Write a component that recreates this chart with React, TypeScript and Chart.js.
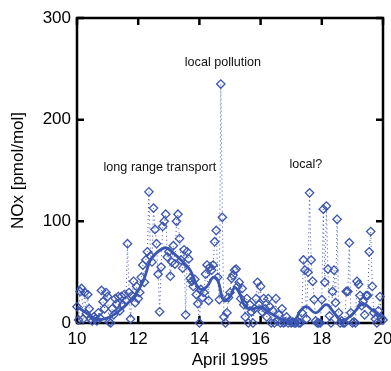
import { useEffect, useRef } from "react";
import { Chart, registerables } from "chart.js";

Chart.register(...registerables);

// Measurement times (day of April 1995) and NOx mixing ratios [pmol/mol]
const times = [
  10.0, 10.05, 10.1, 10.15, 10.2, 10.25, 10.3, 10.35, 10.4, 10.45, 10.5, 10.55, 10.6, 10.65, 10.7, 10.75, 10.8, 10.85, 10.9, 10.95,
  11.0, 11.05, 11.1, 11.15, 11.2, 11.25, 11.3, 11.35, 11.4, 11.45, 11.5, 11.55, 11.6, 11.65, 11.7, 11.75, 11.8, 11.85, 11.9, 11.95,
  12.0, 12.05, 12.1, 12.15, 12.2, 12.25, 12.3, 12.35, 12.4, 12.45, 12.5, 12.55, 12.6, 12.65, 12.7, 12.75, 12.8, 12.85, 12.9, 12.95,
  13.0, 13.05, 13.1, 13.15, 13.2, 13.25, 13.3, 13.35, 13.4, 13.45, 13.5, 13.55, 13.6, 13.65, 13.7, 13.75, 13.8, 13.85, 13.9, 13.95,
  14.0, 14.05, 14.1, 14.15, 14.2, 14.25, 14.3, 14.35, 14.4, 14.45, 14.5, 14.55, 14.6, 14.65, 14.7, 14.75, 14.8, 14.85, 14.9, 14.95,
  15.0, 15.05, 15.1, 15.15, 15.2, 15.25, 15.3, 15.35, 15.4, 15.45, 15.5, 15.55, 15.6, 15.65, 15.7, 15.75, 15.8, 15.85, 15.9, 15.95,
  16.0, 16.05, 16.1, 16.15, 16.2, 16.25, 16.3, 16.35, 16.4, 16.45, 16.5, 16.55, 16.6, 16.65, 16.7, 16.75, 16.8, 16.85, 16.9, 16.95,
  17.0, 17.05, 17.1, 17.15, 17.2, 17.25, 17.3, 17.35, 17.4, 17.45, 17.5, 17.55, 17.6, 17.65, 17.7, 17.75, 17.8, 17.85, 17.9, 17.95,
  18.0, 18.05, 18.1, 18.15, 18.2, 18.25, 18.3, 18.35, 18.4, 18.45, 18.5, 18.55, 18.6, 18.65, 18.7, 18.75, 18.8, 18.85, 18.9, 18.95,
  19.0, 19.05, 19.1, 19.15, 19.2, 19.25, 19.3, 19.35, 19.4, 19.45, 19.5, 19.55, 19.6, 19.65, 19.7, 19.75, 19.8, 19.85, 19.9, 19.95,
  20.0,
];

const nox = [
  16, 3, 31, 34, 4, 30, 9, 28, 14, 4, 2, 6, 4, 2, 10, 5, 32, 21, 14, 30,
  26, 1, 0, 14, 8, 24, 19, 26, 12, 26, 18, 28, 22, 78, 30, 4, 27, 41, 20, 36,
  24, 30, 45, 57, 40, 62, 70, 129, 66, 60, 113, 92, 78, 48, 11, 55, 95, 100, 107, 65,
  70, 46, 60, 76, 58, 100, 107, 83, 62, 54, 72, 8, 70, 63, 44, 41, 36, 43, 28, 19,
  0, 33, 25, 30, 48, 57, 22, 55, 52, 57, 80, 91, 45, 23, 235, 104, 6, 0, 10, 25,
  30, 44, 47, 52, 53, 36, 40, 24, 34, 18, 6, 24, 0, 18, 11, 0, 14, 24, 40, 18,
  36, 11, 24, 14, 6, 24, 16, 0, 12, 0, 24, 2, 8, 0, 14, 0, 1, 6, 0, 2,
  0, 1, 0, 0, 2, 0, 0, 10, 62, 52, 4, 50, 128, 62, 41, 23, 2, 0, 0, 0,
  23, 112, 40, 115, 53, 7, 0, 31, 52, 20, 102, 10, 0, 2, 0, 0, 31, 31, 79, 10,
  0, 1, 0, 41, 38, 27, 17, 21, 8, 27, 27, 70, 90, 36, 10, 4, 0, 12, 26, 5,
  3,
];

// Smoothed curve
const smoothTimes = [
  10.0, 10.3, 10.6, 10.9, 11.2, 11.5, 11.8, 12.0, 12.2, 12.4, 12.6, 12.9, 13.1, 13.4, 13.7, 13.9,
  14.05, 14.25, 14.45, 14.6, 14.8, 15.0, 15.15, 15.3, 15.5, 15.75, 16.0, 16.3, 16.6, 16.85, 17.1,
  17.3, 17.5, 17.8, 18.15, 18.4, 18.65, 18.9, 19.1, 19.35, 19.6, 19.85, 20.0,
];
const smoothNox = [
  16, 10, 4, 4, 8, 15, 24, 32, 44, 62, 69, 74, 70, 62, 52, 38,
  33, 36, 45, 42, 22, 26, 35, 30, 16, 14, 16, 10, 5, 2, 2,
  12, 16, 10, 18, 10, 2, 6, 12, 19, 14, 8, 5,
];

const xTicks = [10, 12, 14, 16, 18, 20];
const yTicks = [0, 100, 200, 300];

const notes = [
  { text: "local pollution", x: 14.77, y: 256 },
  { text: "long range transport", x: 12.71, y: 153 },
  { text: "local?", x: 17.48, y: 156 },
];

const FONT = "'Liberation Sans', Arial, Helvetica, sans-serif";
const BLUE = "#3a55b2";

const framePlugin = {
  id: "frame",
  beforeDatasetsDraw(chart: any) {
    const { ctx, chartArea, scales } = chart;
    const { left, right, top, bottom } = chartArea;
    ctx.save();
    ctx.strokeStyle = "#000";
    ctx.lineWidth = 2.5;
    ctx.strokeRect(left, top, right - left, bottom - top);
    const tl = 7;
    ctx.beginPath();
    for (const v of xTicks) {
      const px = scales.x.getPixelForValue(v);
      ctx.moveTo(px, bottom);
      ctx.lineTo(px, bottom - tl);
      ctx.moveTo(px, top);
      ctx.lineTo(px, top + tl);
    }
    for (const v of yTicks) {
      const py = scales.y.getPixelForValue(v);
      ctx.moveTo(left, py);
      ctx.lineTo(left + tl, py);
      ctx.moveTo(right, py);
      ctx.lineTo(right - tl, py);
    }
    ctx.stroke();
    ctx.restore();
  },
  afterDraw(chart: any) {
    const { ctx, scales } = chart;
    ctx.save();
    ctx.fillStyle = "#111";
    ctx.font = `12.6px ${FONT}`;
    ctx.textAlign = "center";
    ctx.textBaseline = "middle";
    for (const n of notes) {
      ctx.fillText(n.text, scales.x.getPixelForValue(n.x), scales.y.getPixelForValue(n.y));
    }
    ctx.restore();
  },
};

export default function App() {
  const ref = useRef<HTMLCanvasElement | null>(null);
  useEffect(() => {
    if (!ref.current) return;
    const font = { family: FONT, size: 17 };
    const chart = new Chart(ref.current, {
      type: "scatter",
      data: {
        datasets: [
          {
            data: smoothTimes.map((t, i) => ({ x: t, y: smoothNox[i] })),
            showLine: true,
            borderColor: BLUE,
            borderWidth: 2.8,
            pointRadius: 0,
            tension: 0.4,
            clip: false as any,
          },
          {
            data: times.map((t, i) => ({ x: t, y: nox[i] })),
            showLine: true,
            borderColor: BLUE,
            borderWidth: 1,
            borderDash: [1, 3],
            pointStyle: "rectRot",
            pointRadius: 4.2,
            pointBorderWidth: 1.3,
            pointBorderColor: BLUE,
            pointBackgroundColor: "rgba(255,255,255,0)",
            clip: false as any,
          },
        ],
      },
      options: {
        responsive: false,
        animation: false,
        layout: { padding: { top: 18, right: 8, left: 0, bottom: 0 } },
        plugins: { legend: { display: false }, tooltip: { enabled: false } },
        scales: {
          x: {
            type: "linear",
            min: 10,
            max: 20,
            afterBuildTicks: (s: any) => {
              s.ticks = xTicks.map((v) => ({ value: v }));
            },
            grid: { display: false, drawTicks: false },
            border: { display: false },
            ticks: { font, color: "#000", padding: 6, maxRotation: 0, autoSkip: false },
            title: { display: true, text: "April 1995", font, color: "#000", padding: { top: 0, bottom: 0 } },
            afterFit: (s: any) => {
              s.height = 48;
              s.paddingLeft = 0;
              s.paddingRight = 0;
            },
          },
          y: {
            min: 0,
            max: 300,
            afterBuildTicks: (s: any) => {
              s.ticks = yTicks.map((v) => ({ value: v }));
            },
            grid: { display: false, drawTicks: false },
            border: { display: false },
            ticks: { font, color: "#000", padding: 6, autoSkip: false },
            title: { display: true, text: "NOx [pmol/mol]", font, color: "#000", padding: { top: 8, bottom: 0 } },
            afterFit: (s: any) => {
              s.width = 77;
              s.paddingTop = 0;
              s.paddingBottom = 0;
            },
          },
        },
      },
      plugins: [framePlugin],
    });
    return () => chart.destroy();
  }, []);
  return (
    <div style={{ position: "absolute", left: 0, top: 0, width: 391, height: 371 }}>
      <canvas ref={ref} width={391} height={371} style={{ width: 391, height: 371 }} />
    </div>
  );
}
